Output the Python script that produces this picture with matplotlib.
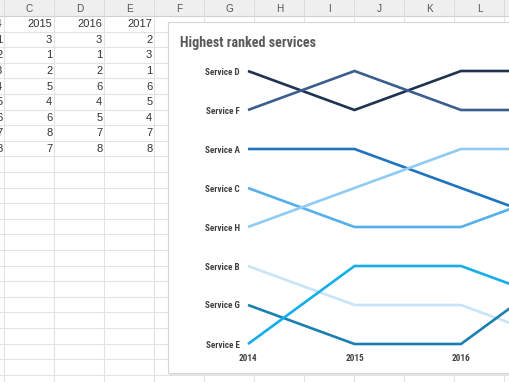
import matplotlib
matplotlib.use('Agg')
import os
import matplotlib.pyplot as plt
from matplotlib.patches import Rectangle
from matplotlib import font_manager

# ---------------- data ----------------
years = [2014, 2015, 2016, 2017]
services = ['Service D', 'Service F', 'Service A', 'Service C',
            'Service H', 'Service B', 'Service G', 'Service E']
rank_D = [1, 2, 1, 1]
rank_F = [2, 1, 2, 2]
rank_A = [3, 3, 4, 5]
rank_C = [4, 5, 5, 4]
rank_H = [5, 4, 3, 3]
rank_B = [6, 7, 7, 8]
rank_G = [7, 8, 8, 6]
rank_E = [8, 6, 6, 7]
ranks = [rank_D, rank_F, rank_A, rank_C, rank_H, rank_B, rank_G, rank_E]
colors = ['#1f3350', '#3a5f8f', '#1f74c0', '#55b0ea',
          '#8fcbf2', '#c8e4f8', '#1a80b0', '#14aee8']

# spreadsheet table
table_headers = ['2014', '2015', '2016', '2017']
col_2014 = [1, 2, 3, 4, 5, 6, 7, 8]
col_2015 = [3, 1, 2, 5, 4, 6, 8, 7]
col_2016 = [3, 1, 2, 6, 4, 5, 7, 8]
col_2017 = [2, 3, 1, 6, 5, 4, 7, 8]
table_cols = [col_2014, col_2015, col_2016, col_2017]
col_letters = ['C', 'D', 'E', 'F', 'G', 'H', 'I', 'J', 'K', 'L']

# ---------------- pick a condensed bold font ----------------
prefer = ['RobotoCondensed-Bold.ttf', 'FiraSansCondensed-Bold.ttf',
          'OpenSans_Condensed-Bold.ttf', 'BarlowSemiCondensed-Bold.ttf']
by_base = {os.path.basename(f.fname): f.fname for f in font_manager.fontManager.ttflist}
narrow_file = None
for p in prefer:
    if p in by_base:
        narrow_file = by_base[p]
        break


def chart_font(size):
    if narrow_file is not None:
        return dict(fontproperties=font_manager.FontProperties(fname=narrow_file, size=size))
    return dict(family='Liberation Sans', fontweight='bold', fontsize=size * 0.83)


# ---------------- figure ----------------
W, H = 510, 382
fig = plt.figure(figsize=(W / 100, H / 100), dpi=100)
bg = fig.add_axes([0, 0, 1, 1])
bg.set_xlim(0, W)
bg.set_ylim(H, 0)
bg.axis('off')

grid_c = '#e3e3e3'
hdr_h = 16
row_h = 15.6
col_w = 50
x0 = 4.5

bg.add_patch(Rectangle((0, 0), W, hdr_h, facecolor='#efefef', edgecolor='none', zorder=1))
bg.plot([0, W], [hdr_h, hdr_h], color='#d0d0d0', lw=0.8, zorder=2)
for k in range(11):
    x = x0 + col_w * k
    bg.plot([x, x], [0, hdr_h], color='#d8d8d8', lw=0.6, zorder=2)
    bg.plot([x, x], [hdr_h, H], color=grid_c, lw=0.8, zorder=1)
for i, letter in enumerate(col_letters):
    bg.text(x0 + col_w * i + col_w / 2, 8.5, letter, ha='center', va='center',
            fontsize=7.2, color='#555555', family='Liberation Sans', zorder=3)

n_rows = int((H - hdr_h) / row_h) + 2
for r in range(n_rows):
    y = hdr_h + row_h * r
    bg.plot([0, W], [y, y], color=grid_c, lw=0.8, zorder=1)

for j, (hdr, col) in enumerate(zip(table_headers, table_cols)):
    xr = x0 + col_w * (j - 1) + col_w - 2.2
    bg.text(xr, hdr_h + row_h * 0.5 + 0.5, hdr, ha='right', va='center',
            fontsize=8.0, color='#333333', family='Liberation Sans', zorder=3)
    for i, v in enumerate(col):
        bg.text(xr, hdr_h + row_h * (i + 1.5) + 0.5, str(v), ha='right', va='center',
                fontsize=8.0, color='#333333', family='Liberation Sans', zorder=3)

# chart box
bg.add_patch(Rectangle((169.5, 23.5), W, 351, facecolor='#e6e6e6', edgecolor='none', zorder=4))
bg.add_patch(Rectangle((168, 22), W, 351, facecolor='white', edgecolor='#d6d6d6', lw=0.8, zorder=5))

bg.text(180, 43, 'Highest ranked services', ha='left', va='center',
        color='#595959', zorder=6, **chart_font(10.1))

# ---------------- bump chart ----------------
px_left, px_right = 248, 567.5
py_top, py_bot = 71, 344
ax = fig.add_axes([px_left / W, (H - py_bot) / H,
                   (px_right - px_left) / W, (py_bot - py_top) / H])
ax.patch.set_visible(False)
ax.set_zorder(10)
for s, r, c in zip(services, ranks, colors):
    ax.plot(years, r, color=c, lw=1.9, solid_joinstyle='miter',
            solid_capstyle='butt', clip_on=False)
ax.set_xlim(years[0], years[-1])
ax.set_ylim(8, 1)
for sp in ax.spines.values():
    sp.set_visible(False)
start_order = sorted(range(len(services)), key=lambda i: ranks[i][0])
ax.set_yticks([ranks[i][0] for i in start_order])
ax.set_yticklabels([services[i] for i in start_order], color='#404040', **chart_font(6.6))
ax.set_xticks(years)
ax.set_xticklabels([str(y) for y in years], color='#404040', **chart_font(6.6))
ax.tick_params(axis='y', length=0, pad=6)
ax.tick_params(axis='x', length=0, pad=7)

fig.savefig('out.png', dpi=100)
